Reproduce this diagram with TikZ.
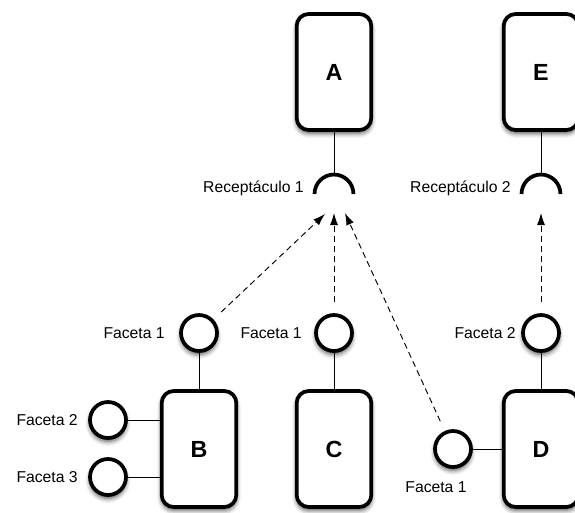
\documentclass[tikz,border=0pt]{standalone}
\usepackage{fontspec}
\setmainfont{Liberation Sans}
\usetikzlibrary{arrows.meta, shadows.blur}

\begin{document}
\begin{tikzpicture}[x=0.75pt, y=-0.75pt,
  comp/.style={draw, line width=2.8pt, rounded corners=9pt, fill=white,
    minimum width=56pt, minimum height=87pt,
    font=\bfseries\fontsize{17.5}{20}\selectfont,
    blur shadow={shadow xshift=0pt, shadow yshift=-2.5pt, shadow blur radius=3.5pt, shadow opacity=70}},
  facet/.style={draw, circle, line width=2.8pt, fill=white, minimum size=27pt, inner sep=0pt,
    blur shadow={shadow xshift=0pt, shadow yshift=-2.5pt, shadow blur radius=3.5pt, shadow opacity=70}},
  recep/.style={line width=2.8pt},
  lbl/.style={font=\fontsize{11.8}{14}\selectfont, inner sep=0pt},
  link/.style={line width=0.7pt},
  conn/.style={line width=0.7pt, dash pattern=on 4.5pt off 3pt, shorten <=8pt,
    -{Latex[length=9pt,width=6pt]}}]
\useasboundingbox (0,0) rectangle (575,512);

% components
\node[comp] (A) at (334,72) {A};
\node[comp] (E) at (541,72) {E};
\node[comp] (B) at (199,449) {B};
\node[comp] (C) at (334,449) {C};
\node[comp] (D) at (541,449) {D};

% receptacles
\coordinate (r1) at (334,194);
\coordinate (r2) at (541,194);
\coordinate (r1top) at (334,174.5);
\coordinate (r2top) at (541,174.5);
\draw[link] (A) -- (r1top);
\draw[link] (E) -- (r2top);
\draw[recep] (r1) ++(-19.5,0) arc[start angle=180, end angle=0, radius=14.6pt];
\draw[recep] (r2) ++(-19.5,0) arc[start angle=180, end angle=0, radius=14.6pt];
\node[lbl, anchor=east] (rl1) at (304,188) {Receptáculo 1};
\node[lbl, anchor=east] (rl2) at (511,188) {Receptáculo 2};

% facets
\node[facet] (b1) at (199,333) {};
\node[facet] (b2) at (108,420) {};
\node[facet] (b3) at (108,477) {};
\node[facet] (c1) at (334,333) {};
\node[facet] (d2) at (541,333) {};
\node[facet] (d1) at (453,449) {};
\node[lbl, anchor=east] (lb1) at (165,333) {Faceta 1};
\node[lbl, anchor=east] (lb2) at (78,420) {Faceta 2};
\node[lbl, anchor=east] (lb3) at (78,477) {Faceta 3};
\node[lbl, anchor=east] (lc1) at (302,333) {Faceta 1};
\node[lbl, anchor=east] (ld2) at (516,333) {Faceta 2};
\node[lbl] (ld1) at (436,487) {Faceta 1};

\draw[link] (b1) -- (B);
\draw[link] (b2) -- (b2 -| B.west);
\draw[link] (b3) -- (b3 -| B.west);
\draw[link] (c1) -- (C);
\draw[link] (d2) -- (D);
\draw[link] (d1) -- (D);

% uses
\coordinate (t1) at (325,214);
\coordinate (t2) at (334,213);
\coordinate (t3) at (345,213);
\coordinate (t4) at (541,213);
\draw[conn] (b1) -- (t1);
\draw[conn] (c1) -- (t2);
\draw[conn] (d1) -- (t3);
\draw[conn] (d2) -- (t4);
\end{tikzpicture}
\end{document}
